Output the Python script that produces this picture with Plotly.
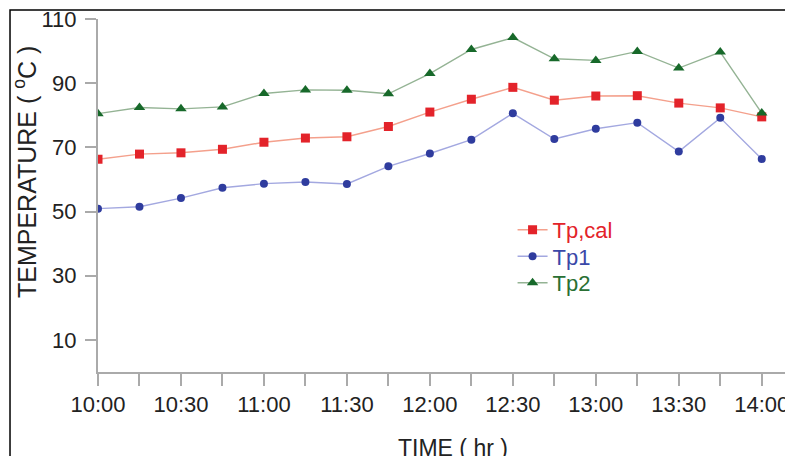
import plotly.graph_objects as go

times = ["10:00", "10:15", "10:30", "10:45", "11:00", "11:15", "11:30", "11:45",
         "12:00", "12:15", "12:30", "12:45", "13:00", "13:15", "13:30", "13:45", "14:00"]
tp_cal = [66.3, 67.9, 68.3, 69.4, 71.6, 72.9, 73.3, 76.5, 81.0, 85.0, 88.7, 84.7, 86.0, 86.1, 83.8, 82.3, 79.5]
tp1 = [50.9, 51.5, 54.2, 57.4, 58.7, 59.2, 58.6, 64.1, 68.1, 72.4, 80.6, 72.6, 75.8, 77.7, 68.7, 79.2, 66.4]
tp2 = [80.5, 82.4, 82.0, 82.6, 86.8, 87.9, 87.8, 86.7, 93.0, 100.5, 104.2, 97.6, 97.1, 99.9, 94.7, 99.7, 80.7]

y_tick_vals = [10, 30, 50, 70, 90, 110]
x_title = "TIME ( hr )"
y_title = "TEMPERATURE ( <sup>o</sup>C )"

x = ["2024-01-01 " + t for t in times]
FONT = "Arial, Liberation Sans, sans-serif"

fig = go.Figure()
series = [
    ("Tp,cal", tp_cal, "#f4a08c", "#e3232a", "square", 9, "#e3232a", "legend"),
    ("Tp1", tp1, "#a3a8e0", "#2f3c9e", "circle", 8, "#3a48a8", "legend2"),
    ("Tp2", tp2, "#94b394", "#17692a", "triangle-up", 10, "#2a7034", "legend3"),
]
for name, vals, lc, mc, sym, ms, tc, lg in series:
    fig.add_trace(go.Scatter(
        x=x, y=vals, mode="lines+markers",
        name=f"<span style='color:{tc}'>{name}</span>",
        legend=lg,
        line=dict(color=lc, width=1.4),
        marker=dict(color=mc, symbol=sym, size=ms, line=dict(width=0)),
    ))

leg_common = dict(x=0.5965, xanchor="left", yanchor="middle",
                  bgcolor="rgba(0,0,0,0)", font=dict(size=22), itemwidth=30)

fig.update_layout(
    width=785, height=448,
    margin=dict(l=90, r=0, t=11, b=84, autoexpand=False),
    paper_bgcolor="white", plot_bgcolor="white",
    font=dict(family=FONT, size=22, color="#222222"),
    showlegend=True,
    legend=dict(y=0.4023, **leg_common),
    legend2=dict(y=0.3272, **leg_common),
    legend3=dict(y=0.2521, **leg_common),
    xaxis=dict(
        type="date", automargin=False,
        range=["2024-01-01 10:00", "2024-01-01 14:11:18"],
        dtick=30 * 60 * 1000, tick0="2024-01-01 10:00", tickformat="%H:%M",
        ticks="outside", ticklen=12, tickwidth=2, tickcolor="#aaaaaa",
        minor=dict(dtick=15 * 60 * 1000, ticks="outside", ticklen=12,
                   tickwidth=2, tickcolor="#aaaaaa", showgrid=False),
        showline=True, linecolor="#aaaaaa", linewidth=2,
        showgrid=False, zeroline=False, ticklabeloverflow="allow",
        tickfont=dict(size=22, color="#222222"),
    ),
    yaxis=dict(
        range=[0, 110], tickvals=y_tick_vals, automargin=False,
        ticks="outside", ticklen=11, tickwidth=2, tickcolor="#aaaaaa",
        showline=True, linecolor="#aaaaaa", linewidth=2,
        showgrid=False, zeroline=False, ticklabeloverflow="allow",
        tickfont=dict(size=22, color="#222222"),
        ticklabelstandoff=4,
    ),
    annotations=[
        dict(text=x_title, xref="paper", yref="paper", x=0.511, y=-0.2153,
             xanchor="center", yanchor="middle", showarrow=False,
             font=dict(size=23, color="#222222")),
        dict(text=y_title, xref="paper", yref="paper", x=-0.105, y=0.5666,
             xanchor="center", yanchor="middle", showarrow=False, textangle=-90,
             font=dict(size=25, color="#222222")),
    ],
)

# outer frame
fig.add_shape(type="rect", xref="paper", yref="paper",
              x0=-0.1266, x1=1.1, y0=-0.3, y1=1.0255,
              line=dict(color="black", width=1.5), layer="below")

fig.write_html("out.html")
